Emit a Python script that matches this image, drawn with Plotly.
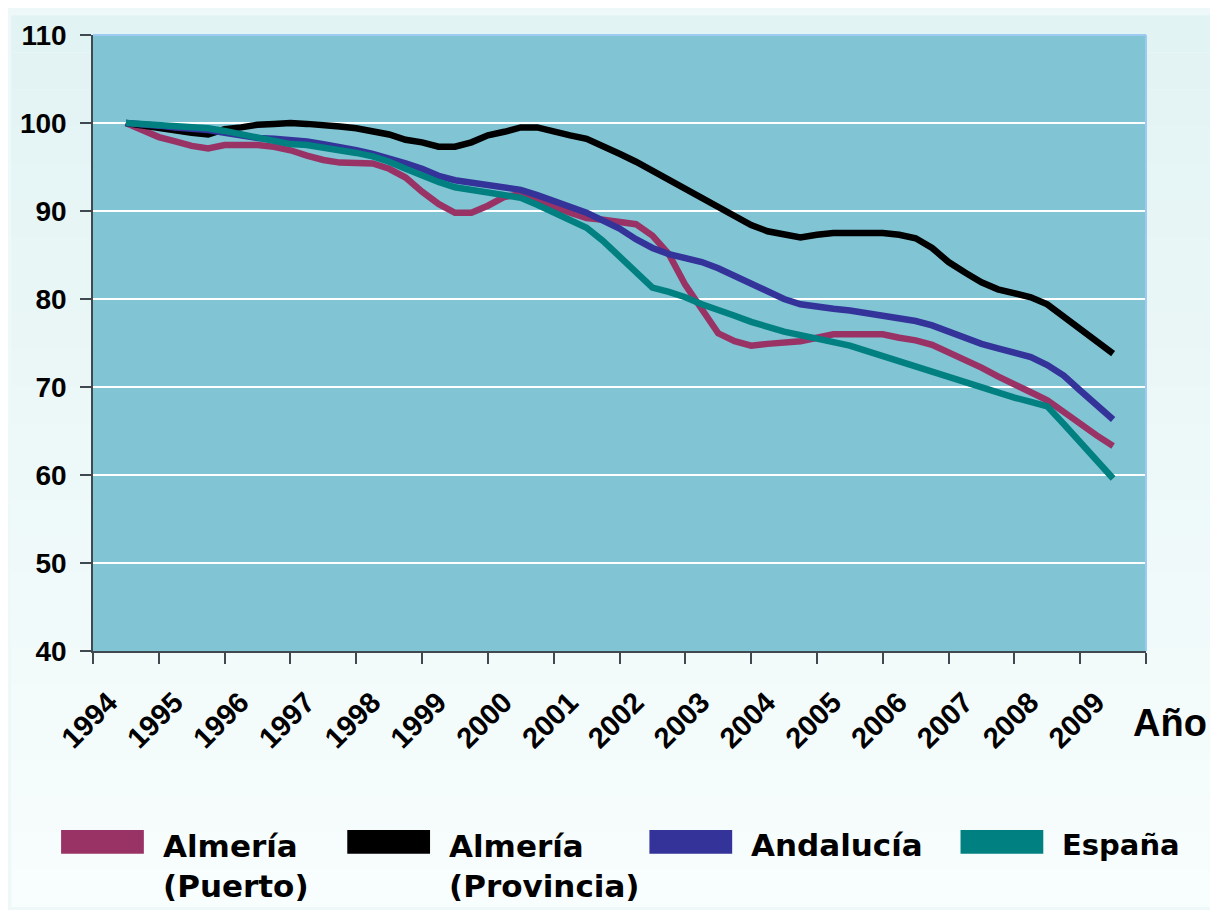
import plotly.graph_objects as go

# ---------------- data ----------------
years = list(range(1994, 2010))
# quarterly time points from 1994 to 2009
t = [1994 + 0.25 * i for i in range(61)]

puerto = [100.0, 99.1, 98.4, 97.9, 97.4, 97.1, 97.5, 97.5, 97.5, 97.3, 96.9, 96.3,
          95.8, 95.5, 95.4, 95.4, 94.8, 93.8, 92.2, 90.8, 89.8, 89.8, 90.6, 91.6,
          91.9, 91.1, 90.5, 89.8, 89.2, 89.0, 88.8, 88.5, 87.2, 85.1, 81.6, 78.7,
          76.1, 75.2, 74.7, 74.9, 75.0, 75.2, 75.6, 76.0, 76.0, 76.0, 76.0, 75.6,
          75.3, 74.8, 74.0, 73.1, 72.2, 71.2, 70.4, 69.4, 68.5, 67.1, 65.7, 64.5, 63.3]

provincia = [100.0, 99.7, 99.4, 99.1, 98.9, 98.7, 99.3, 99.5, 99.8, 99.9, 100.0, 99.9,
             99.8, 99.6, 99.4, 99.1, 98.7, 98.1, 97.8, 97.3, 97.3, 97.8, 98.6, 99.0,
             99.5, 99.5, 99.0, 98.6, 98.2, 97.4, 96.5, 95.6, 94.6, 93.5, 92.4, 91.4,
             90.5, 89.5, 88.4, 87.7, 87.3, 87.0, 87.3, 87.5, 87.5, 87.5, 87.5, 87.3,
             86.9, 85.8, 84.2, 83.0, 81.9, 81.1, 80.7, 80.2, 79.4, 78.0, 76.6, 75.2, 73.8]

andalucia = [100.0, 99.9, 99.7, 99.5, 99.4, 99.2, 98.9, 98.6, 98.3, 98.2, 98.1, 97.9,
             97.6, 97.3, 96.9, 96.5, 96.0, 95.4, 94.8, 94.0, 93.5, 93.2, 92.9, 92.7,
             92.4, 91.8, 91.1, 90.5, 89.8, 88.9, 88.0, 86.8, 85.8, 85.1, 84.6, 84.2,
             83.5, 82.6, 81.6, 80.7, 80.0, 79.4, 79.1, 78.9, 78.7, 78.4, 78.2, 77.9,
             77.5, 77.0, 76.3, 75.6, 74.9, 74.4, 73.9, 73.4, 72.5, 71.3, 69.6, 68.0, 66.3]

espana = [100.0, 99.9, 99.8, 99.7, 99.6, 99.4, 99.1, 98.7, 98.3, 97.9, 97.6, 97.5,
          97.2, 97.0, 96.6, 96.2, 95.6, 94.8, 94.0, 93.3, 92.7, 92.4, 92.1, 91.8,
          91.5, 90.7, 89.8, 89.0, 88.1, 86.6, 84.9, 83.1, 81.3, 80.8, 80.2, 79.4,
          78.8, 78.1, 77.4, 76.8, 76.3, 75.9, 75.5, 75.1, 74.7, 74.1, 73.5, 73.0,
          72.4, 71.8, 71.1, 70.5, 69.9, 69.3, 68.8, 68.3, 67.8, 65.8, 63.8, 61.8, 59.6]

series_names = ["Almería<br>(Puerto)", "Almería<br>(Provincia)", "Andalucía", "España"]
series_values = [puerto, provincia, andalucia, espana]
series_colors = ["#993366", "#000000", "#333399", "#008080"]
y_ticks = [40, 50, 60, 70, 80, 90, 100, 110]

# ---------------- figure ----------------
fig = go.Figure()
for name, vals, col in zip(series_names, series_values, series_colors):
    fig.add_trace(go.Scatter(x=t, y=vals, mode="lines", name=name.replace("<br>", " "),
                             line=dict(color=col, width=6.5), showlegend=False))

OFF = 8  # page body margin of the html page
W, H = 1218 - OFF, 910 - OFF
ml, mr, mt, mb = 90 - OFF, 72, 28 - OFF, 259
pw, ph = W - ml - mr, H - mt - mb

def px_x(px):  # page pixel -> paper x
    return (px - OFF - ml) / pw

def px_y(py):  # page pixel -> paper y
    return (H - mb - (py - OFF)) / ph

shapes = []
# subtle vertical background gradient of the page
top_c = (226, 243, 243)
bot_c = (248, 253, 253)
nb = 24
for i in range(nb):
    f = i / (nb - 1)
    c = tuple(round(top_c[k] + (bot_c[k] - top_c[k]) * f) for k in range(3))
    shapes.append(dict(type="rect", xref="paper", yref="paper", layer="below",
                       x0=-ml / pw, x1=(W - ml) / pw,
                       y0=(H - mb - H * (i + 1) / nb) / ph, y1=(H - mb - H * i / nb) / ph,
                       fillcolor="rgb(%d,%d,%d)" % c, line=dict(width=0)))
# plot area
shapes.append(dict(type="rect", xref="paper", yref="paper", layer="below",
                   x0=0, x1=1, y0=0, y1=1, fillcolor="#81C4D4", line=dict(width=0)))
# light top / right border
shapes.append(dict(type="line", xref="paper", yref="paper", x0=0, x1=1, y0=1, y1=1,
                   line=dict(color="#9ccaf2", width=2)))
shapes.append(dict(type="line", xref="paper", yref="paper", x0=1, x1=1, y0=0, y1=1,
                   line=dict(color="#9ccaf2", width=2)))

annotations = []
# legend (manual, rectangular swatches)
leg_sw_x = [58, 345, 648, 960]
leg_sw_w = 83
leg_txt_x = [158, 445, 748, 1060]
leg_sizes = [31, 31, 31, 29]
for i, (name, col) in enumerate(zip(series_names, series_colors)):
    shapes.append(dict(type="rect", xref="paper", yref="paper",
                       x0=px_x(leg_sw_x[i]), x1=px_x(leg_sw_x[i] + leg_sw_w),
                       y0=px_y(856), y1=px_y(832), fillcolor=col, line=dict(width=0)))
    two = "<br>" in name
    annotations.append(dict(xref="paper", yref="paper", x=px_x(leg_txt_x[i]),
                            y=px_y(868 if two else 847), xanchor="left", yanchor="middle",
                            align="left", showarrow=False, text=name,
                            font=dict(family="DejaVu Sans", size=leg_sizes[i], color="black",
                                      weight="bold")))
annotations.append(dict(xref="paper", yref="paper", x=px_x(1170), y=px_y(724),
                        xanchor="center", yanchor="middle", showarrow=False, text="Año",
                        font=dict(family="Liberation Sans", size=38, color="black", weight="bold")))

fig.update_layout(
    width=W, height=H,
    margin=dict(l=ml, r=mr, t=mt, b=mb),
    paper_bgcolor="#eef8f8",
    plot_bgcolor="rgba(0,0,0,0)",
    shapes=shapes,
    annotations=annotations,
    showlegend=False,
    xaxis=dict(range=[years[0] - 0.5, years[-1] + 0.5], tickmode="array",
               tickvals=years, ticktext=[str(y) for y in years], tickangle=-45,
               ticks="outside", ticklen=11, tickcolor="rgba(0,0,0,0)",
               ticklabelshift=-17, ticklabelstandoff=10,
               minor=dict(tickmode="array", tickvals=[y - 0.5 for y in years] + [years[-1] + 0.5],
                          ticks="outside", ticklen=11, tickcolor="#404850", tickwidth=1.5,
                          showgrid=False),
               showline=True, linecolor="#404850", linewidth=1.5,
               showgrid=False, zeroline=False,
               tickfont=dict(family="Liberation Sans", size=29, color="black", weight="bold")),
    yaxis=dict(range=[40, 110], tickmode="array", tickvals=y_ticks,
               ticks="outside", ticklen=11, tickcolor="#404850", tickwidth=1.5,
               ticklabelstandoff=8,
               showline=True, linecolor="#404850", linewidth=1.5,
               showgrid=True, gridcolor="white", gridwidth=1.5, zeroline=False,
               tickfont=dict(family="Liberation Sans", size=28, color="black", weight="bold")),
)

fig.write_html("out.html")
